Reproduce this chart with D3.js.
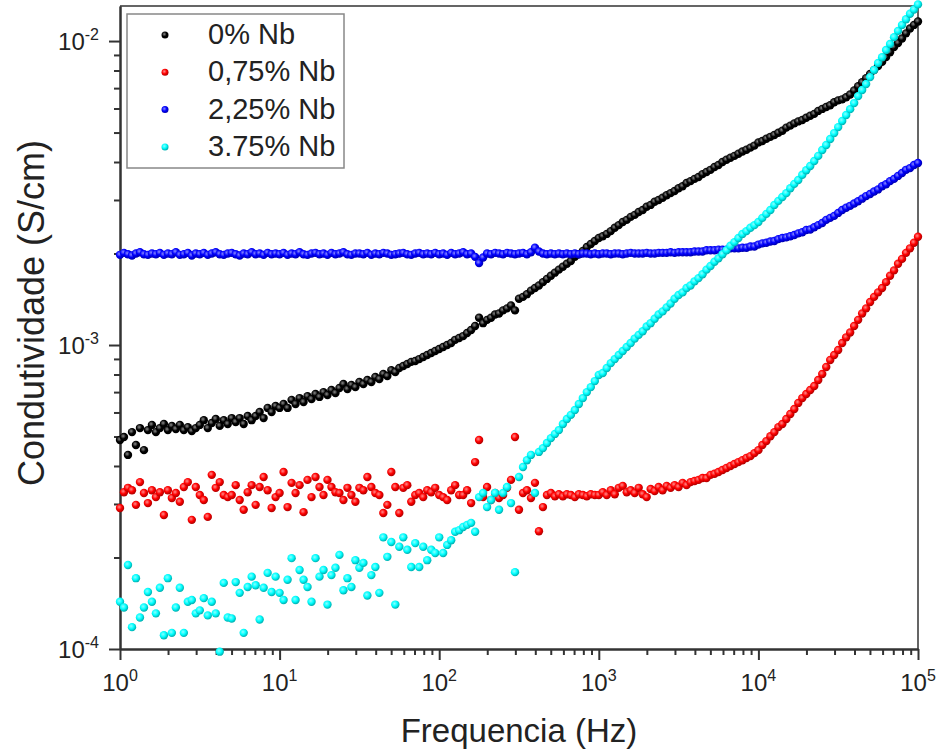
<!DOCTYPE html>
<html>
<head>
<meta charset="utf-8">
<script src="https://cdn.jsdelivr.net/npm/d3@7"></script>
<style>
    body { margin: 0; background: #fff; }
    text { font-family: Arial, "Liberation Sans", sans-serif; fill: #222; }
</style>
</head>
<body>
<div id="svgContainer"></div>
<script>
// conductivity values are written in units of 10^-4 S/cm
var UNIT = 1e-4

var freq = [
    1, 1.059, 1.122, 1.189, 1.259, 1.334, 1.413, 1.496, 1.585, 1.679, 1.778, 1.884, 1.995, 2.113, 2.239, 2.371, 2.512, 2.661, 2.818, 2.985,
    3.162, 3.350, 3.548, 3.758, 3.981, 4.217, 4.467, 4.732, 5.012, 5.309, 5.623, 5.957, 6.310, 6.683, 7.079, 7.499, 7.943, 8.414, 8.913, 9.441,
    10, 10.59, 11.22, 11.89, 12.59, 13.34, 14.13, 14.96, 15.85, 16.79, 17.78, 18.84, 19.95, 21.13, 22.39, 23.71, 25.12, 26.61, 28.18, 29.85,
    31.62, 33.50, 35.48, 37.58, 39.81, 42.17, 44.67, 47.32, 50.12, 53.09, 56.23, 59.57, 63.10, 66.83, 70.79, 74.99, 79.43, 84.14, 89.13, 94.41,
    100, 105.9, 112.2, 118.9, 125.9, 133.4, 141.3, 149.6, 158.5, 167.9, 177.8, 188.4, 199.5, 211.3, 223.9, 237.1, 251.2, 266.1, 281.8, 298.5,
    316.2, 335.0, 354.8, 375.8, 398.1, 421.7, 446.7, 473.2, 501.2, 530.9, 562.3, 595.7, 631.0, 668.3, 707.9, 749.9, 794.3, 841.4, 891.3, 944.1,
    1000, 1059, 1122, 1189, 1259, 1334, 1413, 1496, 1585, 1679, 1778, 1884, 1995, 2113, 2239, 2371, 2512, 2661, 2818, 2985,
    3162, 3350, 3548, 3758, 3981, 4217, 4467, 4732, 5012, 5309, 5623, 5957, 6310, 6683, 7079, 7499, 7943, 8414, 8913, 9441,
    10000, 10590, 11220, 11890, 12590, 13340, 14130, 14960, 15850, 16790, 17780, 18840, 19950, 21130, 22390, 23710, 25120, 26610, 28180, 29850,
    31620, 33500, 35480, 37580, 39810, 42170, 44670, 47320, 50120, 53090, 56230, 59570, 63100, 66830, 70790, 74990, 79430, 84140, 89130, 94410,
    100000
]

var nb0 = [
    4.87, 4.98, 4.35, 5.17, 4.69, 5.33, 4.51, 5.25, 5.46, 5.17,
    5.33, 5.50, 5.25, 5.42, 5.29, 5.46, 5.25, 5.37, 5.21, 5.33,
    5.46, 5.66, 5.33, 5.54, 5.71, 5.42, 5.66, 5.50, 5.75, 5.58,
    5.75, 5.50, 5.84, 5.66, 5.84, 6.02, 5.75, 6.21, 6.02, 6.30,
    6.21, 6.40, 6.21, 6.60, 6.40, 6.69, 6.49, 6.79, 6.64, 6.90,
    6.75, 7.00, 6.85, 7.11, 6.95, 7.22, 7.44, 7.16, 7.39, 7.27,
    7.56, 7.44, 7.67, 7.56, 7.85, 7.73, 8.03, 7.91, 8.27, 8.15,
    8.40, 8.53, 8.66, 8.80, 8.86, 8.99, 9.13, 9.27, 9.41, 9.56,
    9.70, 9.85, 10.0, 10.15, 10.4, 10.55, 10.7, 10.95, 11.2, 11.55,
    12.3, 11.8, 12.1, 12.3, 12.6, 12.7, 13.0, 13.2, 13.5, 13.0,
    14.2, 14.4, 14.7, 15.1, 15.4, 15.7, 16.1, 16.5, 16.9, 17.3,
    17.7, 18.1, 18.5, 18.9, 19.5, 19.9, 20.4, 21.0, 21.5, 22.0,
    22.5, 22.8, 23.2, 23.7, 24.3, 24.8, 25.4, 25.8, 26.4, 26.8,
    27.4, 27.8, 28.5, 28.9, 29.6, 30.0, 30.5, 31.1, 31.6, 32.1,
    32.8, 33.3, 34.1, 34.6, 35.2, 35.7, 36.5, 37.1, 37.7, 38.5,
    39.1, 40.0, 40.7, 41.3, 41.9, 42.6, 43.3, 43.9, 44.6, 45.3,
    46.4, 46.9, 47.7, 48.4, 49.1, 49.9, 50.7, 51.9, 52.7, 53.6,
    54.4, 55.0, 55.9, 56.8, 57.6, 58.9, 59.8, 60.7, 61.5, 62.9,
    63.8, 64.3, 65.3, 66.7, 68.8, 71.0, 73.2, 75.5, 77.9, 80.3,
    82.8, 85.4, 88.6, 91.9, 95.5, 98.5, 102, 106, 110, 113,
    116
]

var nb075 = [
    2.91, 3.28, 3.39, 3.33, 2.98, 3.54, 3.26, 3.02, 3.33, 3.16,
    3.28, 2.76, 3.33, 3.14, 3.26, 3.05, 3.41, 3.54, 2.66, 3.41,
    3.21, 3.09, 2.72, 3.74, 3.39, 3.54, 3.21, 3.16, 3.21, 3.46,
    3.09, 2.87, 3.28, 3.46, 2.98, 3.41, 3.68, 3.33, 2.91, 3.16,
    3.26, 3.82, 2.93, 3.52, 3.26, 3.46, 2.82, 3.60, 3.16, 3.68,
    3.41, 3.21, 3.60, 3.41, 3.28, 3.26, 3.09, 3.39, 3.21, 3.05,
    3.39, 3.33, 3.68, 3.41, 3.26, 3.21, 2.80, 2.98, 3.82, 3.41,
    2.80, 3.39, 3.46, 3.05, 3.21, 3.26, 3.16, 3.33, 3.28, 3.39,
    3.21, 3.16, 3.09, 3.33, 3.46, 3.21, 3.21, 3.33, 3.02, 4.12,
    4.87, 3.16, 3.41, 3.09, 3.26, 3.14, 3.21, 3.39, 3.60, 4.98,
    2.87, 3.26, 3.33, 3.14, 3.52, 2.44, 2.93, 3.21, 3.26, 3.18,
    3.23, 3.18, 3.23, 3.21, 3.16, 3.23, 3.21, 3.18, 3.23, 3.21,
    3.21, 3.28, 3.21, 3.33, 3.23, 3.39, 3.44, 3.28, 3.33, 3.26,
    3.39, 3.23, 3.16, 3.36, 3.31, 3.41, 3.33, 3.44, 3.39, 3.46,
    3.41, 3.52, 3.46, 3.54, 3.57, 3.60, 3.65, 3.65, 3.74, 3.77,
    3.82, 3.88, 3.94, 4.00, 4.06, 4.12, 4.18, 4.25, 4.31, 4.41,
    4.51, 4.69, 4.83, 5.01, 5.17, 5.37, 5.50, 5.71, 5.93, 6.16,
    6.45, 6.69, 6.90, 7.11, 7.33, 7.67, 8.03, 8.47, 8.93, 9.27,
    9.63, 10.15, 10.6, 11.0, 11.55, 12.1, 12.7, 13.2, 13.85, 14.4,
    14.9, 15.4, 16.1, 16.9, 17.6, 18.5, 19.2, 20.1, 20.8, 21.7,
    22.7
]

var nb225 = [
    19.8, 20.1, 19.9, 19.7, 20.0, 20.2, 19.9, 19.8, 20.0, 19.9,
    20.1, 19.8, 20.0, 19.9, 20.2, 19.8, 19.9, 20.1, 19.7, 20.0,
    19.9, 20.1, 19.8, 20.0, 20.2, 19.9, 19.8, 20.0, 20.1, 19.9,
    19.7, 20.0, 19.9, 20.2, 19.9, 20.0, 19.8, 20.1, 19.9, 20.0,
    19.9, 20.1, 19.8, 20.0, 19.9, 20.2, 19.9, 19.8, 20.0, 20.1,
    19.9, 20.0, 19.8, 20.1, 19.9, 20.0, 20.2, 19.9, 19.8, 20.0,
    20.0, 19.9, 20.1, 19.8, 20.0, 19.9, 20.1, 20.0, 19.8, 19.9,
    20.0, 20.1, 19.9, 19.8, 20.0, 20.1, 19.9, 20.0, 19.9, 20.1,
    19.9, 20.0, 19.8, 20.1, 19.9, 20.0, 20.2, 19.9, 20.0, 19.5,
    18.6, 19.4, 20.0, 19.9, 20.1, 20.0, 19.9, 20.1, 20.0, 19.9,
    20.0, 20.1, 19.9, 20.2, 20.9, 20.3, 20.0, 19.9, 20.0, 19.9,
    20.0, 19.9, 20.0, 19.9, 20.0, 19.9, 20.0, 20.0, 19.9, 20.0,
    19.9, 20.0, 20.0, 19.9, 20.0, 20.0, 19.9, 20.0, 20.1, 20.0,
    20.0, 20.0, 20.1, 20.0, 20.0, 20.1, 20.1, 20.1, 20.2, 20.1,
    20.2, 20.2, 20.2, 20.2, 20.3, 20.3, 20.3, 20.5, 20.5, 20.5,
    20.6, 20.6, 20.6, 20.8, 20.8, 20.8, 20.9, 20.9, 21.1, 21.1,
    21.4, 21.6, 21.7, 21.9, 22.0, 22.3, 22.5, 22.6, 22.8, 23.0,
    23.3, 23.5, 23.9, 24.0, 24.4, 24.8, 25.2, 25.8, 26.2, 26.6,
    27.2, 27.8, 28.3, 28.7, 29.2, 29.7, 30.3, 30.9, 31.4, 32.0,
    32.5, 33.3, 33.8, 34.6, 35.2, 36.0, 36.8, 37.7, 38.2, 39.1,
    39.7
]

var nb375 = [
    1.43, 1.37, 1.89, 1.18, 1.71, 1.27, 1.37, 1.54, 1.43, 1.31,
    1.59, 1.11, 1.71, 1.13, 1.37, 1.59, 1.13, 1.43, 1.45, 1.31,
    1.34, 1.47, 1.29, 1.43, 1.31, 0.98, 1.65, 1.27, 1.26, 1.66,
    1.53, 1.13, 1.60, 1.73, 1.62, 1.25, 1.59, 1.78, 1.54, 1.73,
    1.53, 1.45, 1.69, 1.99, 1.45, 1.82, 1.69, 1.60, 1.43, 1.99,
    1.73, 1.82, 1.40, 1.75, 1.85, 2.04, 1.56, 1.71, 1.60, 1.96,
    1.85, 1.92, 1.50, 1.75, 1.86, 1.53, 2.33, 2.01, 2.25, 1.40,
    2.17, 2.33, 2.12, 1.86, 2.23, 1.86, 2.17, 1.96, 2.12, 2.07,
    2.33, 2.07, 2.20, 2.28, 2.43, 2.46, 2.52, 2.56, 2.60, 2.43,
    3.16, 3.26, 2.93, 3.09, 3.26, 2.87, 3.26, 3.41, 3.02, 1.79,
    3.68, 3.97, 4.18, 4.35, 3.26, 4.45, 4.58, 4.76, 4.94, 5.10,
    5.25, 5.50, 5.71, 5.89, 6.11, 6.40, 6.69, 7.00, 7.27, 7.61,
    7.97, 8.09, 8.40, 8.72, 8.99, 9.27, 9.56, 9.85, 10.15, 10.5,
    10.8, 11.1, 11.5, 11.8, 12.2, 12.6, 12.9, 13.3, 13.7, 14.2,
    14.6, 14.9, 15.4, 15.7, 16.2, 16.6, 17.1, 17.7, 18.2, 18.8,
    19.3, 19.9, 20.5, 21.2, 21.8, 22.5, 23.2, 23.7, 24.3, 24.8,
    25.4, 26.2, 27.0, 27.8, 28.9, 29.8, 30.7, 31.6, 32.8, 33.9,
    34.9, 36.3, 37.6, 38.8, 40.3, 41.9, 43.8, 45.5, 47.6, 49.8,
    52.1, 54.6, 57.1, 59.7, 62.5, 65.9, 69.0, 72.2, 76.1, 80.3,
    84.7, 88.5, 93.4, 97.8, 103, 108, 113, 118, 123, 127,
    132
]

var seriesNames = ["0% Nb", "0,75% Nb", "2,25% Nb", "3.75% Nb"]
var seriesValues = [nb0, nb075, nb225, nb375]
var seriesColors = ["#000000", "#ff0000", "#0000ff", "#00ffff"]
var xMajor = [1, 10, 100, 1000, 10000, 100000]
var xExp = ["0", "1", "2", "3", "4", "5"]
var yMajor = [1e-4, 1e-3, 1e-2]
var yExp = ["-4", "-3", "-2"]

function drawChart() {
    let width = 943, height = 755;
    var margin = { top: 6, right: 25, bottom: 106, left: 120 },
        plot_width = width - margin.left - margin.right,
        plot_height = height - margin.top - margin.bottom;

    var root = d3.select("#svgContainer")
        .append("svg")
        .attr("width", width)
        .attr("height", height);

    // sphere-like markers, like Origin's filled circles
    var defs = root.append("defs");
    seriesColors.forEach((c, i) => {
        var g = defs.append("radialGradient")
            .attr("id", "ball" + i)
            .attr("cx", "40%").attr("cy", "38%").attr("r", "60%");
        g.append("stop").attr("offset", "0%").attr("stop-color", d3.interpolateRgb(c, "#fff")(0.55));
        g.append("stop").attr("offset", "55%").attr("stop-color", c);
        g.append("stop").attr("offset", "100%").attr("stop-color", d3.interpolateRgb(c, "#000")(0.3));
    });

    var svg = root.append("g")
        .attr("transform", `translate(${margin.left},${margin.top})`);

    var xScale = d3.scaleLog()
        .domain([1, 1e5])
        .range([0, plot_width]);
    var yScale = d3.scaleLog()
        .domain([1e-4, 1.304e-2])
        .range([plot_height, 0]);

    var xMinor = xScale.ticks().filter(t => xMajor.indexOf(t) < 0);
    var yMinor = yScale.ticks().filter(t => !yMajor.some(m => Math.abs(m - t) / m < 1e-6));

    // frame top / right
    svg.append("path")
        .attr("d", d3.line()([[0, 0], [plot_width, 0], [plot_width, plot_height]]))
        .attr("fill", "none")
        .attr("stroke", "#333")
        .attr("stroke-width", 1.5);

    // x axis
    var xAxis = svg.append("g")
        .attr("class", "axis axis-x")
        .attr("transform", "translate(0," + plot_height + ")");
    xAxis.call(d3.axisBottom(xScale).tickValues(xMinor).tickSize(6).tickSizeOuter(0).tickFormat(""));
    xAxis.append("g").call(d3.axisBottom(xScale).tickValues(xMajor).tickSize(11).tickSizeOuter(0).tickFormat(""));
    // y axis
    var yAxis = svg.append("g").attr("class", "axis axis-y");
    yAxis.call(d3.axisLeft(yScale).tickValues(yMinor).tickSize(6).tickSizeOuter(0).tickFormat(""));
    yAxis.append("g").call(d3.axisLeft(yScale).tickValues(yMajor).tickSize(11).tickSizeOuter(0).tickFormat(""));
    svg.selectAll(".axis path, .axis line")
        .attr("stroke", "#333")
        .attr("stroke-width", 2);

    // tick labels 10^n
    var xl = svg.selectAll(".xlab")
        .data(xMajor)
        .enter()
        .append("text")
        .attr("class", "xlab")
        .attr("x", d => xScale(d))
        .attr("y", plot_height + 42)
        .attr("text-anchor", "middle")
        .style("font-size", "24px");
    xl.append("tspan").text("10");
    xl.append("tspan").attr("dy", -10).style("font-size", "16px").text((d, i) => xExp[i]);

    var yl = svg.selectAll(".ylab")
        .data(yMajor)
        .enter()
        .append("text")
        .attr("class", "ylab")
        .attr("x", -21)
        .attr("y", d => yScale(d) + 9)
        .attr("text-anchor", "end")
        .style("font-size", "24px");
    yl.append("tspan").text("10");
    yl.append("tspan").attr("dy", -10).style("font-size", "16px").text((d, i) => yExp[i]);

    // axis titles
    svg.append("text")
        .attr("x", (xScale(1) + xScale(1e5)) / 2)
        .attr("y", height - margin.top - 13)
        .attr("text-anchor", "middle")
        .style("font-size", "33px")
        .text("Frequencia (Hz)");
    svg.append("text")
        .attr("transform", "rotate(-90)")
        .attr("x", -(313 - margin.top))
        .attr("y", 44 - margin.left)
        .attr("text-anchor", "middle")
        .style("font-size", "36px")
        .text("Condutividade (S/cm)");

    // data points
    seriesValues.forEach((vals, i) => {
        svg.append("g")
            .selectAll("circle")
            .data(vals)
            .enter()
            .append("circle")
            .attr("cx", (d, k) => xScale(freq[k]))
            .attr("cy", d => yScale(d * UNIT))
            .attr("r", 4.2)
            .attr("fill", "url(#ball" + i + ")");
    });

    // legend
    var legend = root.append("g").attr("transform", "translate(127,14)");
    legend.append("rect")
        .attr("width", 217)
        .attr("height", 154)
        .attr("fill", "#fff")
        .attr("stroke", "#888")
        .attr("stroke-width", 1.5);
    var items = legend.selectAll(".item")
        .data(seriesNames)
        .enter()
        .append("g")
        .attr("class", "item")
        .attr("transform", (d, i) => `translate(0,${21 + i * 37.3})`);
    items.append("circle")
        .attr("cx", 38)
        .attr("r", 3.5)
        .attr("fill", (d, i) => "url(#ball" + i + ")");
    items.append("text")
        .attr("x", 81)
        .attr("y", 9)
        .style("font-size", "29px")
        .text(d => d);
}
drawChart();
</script>
</body>
</html>
